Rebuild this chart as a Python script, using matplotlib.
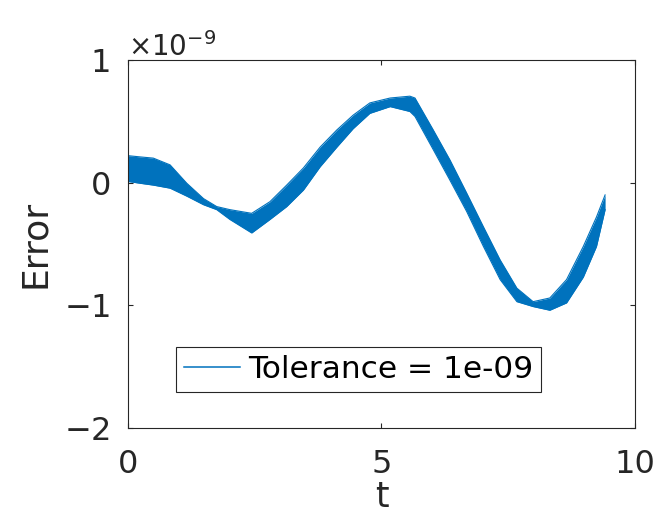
import matplotlib
matplotlib.use('Agg')
import matplotlib.pyplot as plt
import numpy as np

# band of the oscillating error curve (units of 1e-9)
t_pts = [0.0, 0.24, 0.50, 0.83, 1.16, 1.49, 1.75, 2.01, 2.44, 2.80, 3.13, 3.46,
         3.79, 4.12, 4.44, 4.77, 5.17, 5.56, 5.66, 6.02, 6.35, 6.68, 7.01, 7.34,
         7.67, 7.99, 8.32, 8.65, 8.98, 9.24, 9.41]
err_upper = [0.22, 0.21, 0.20, 0.145, -0.005, -0.13, -0.195, -0.22, -0.25, -0.155, -0.02, 0.12,
             0.29, 0.43, 0.55, 0.65, 0.69, 0.705, 0.69, 0.43, 0.185, -0.085, -0.36, -0.63,
             -0.86, -0.97, -0.94, -0.79, -0.52, -0.28, -0.10]
err_lower = [0.01, -0.005, -0.02, -0.045, -0.11, -0.18, -0.22, -0.30, -0.41, -0.30, -0.195, -0.06,
             0.13, 0.29, 0.44, 0.565, 0.62, 0.58, 0.54, 0.27, 0.02, -0.235, -0.52, -0.79,
             -0.97, -1.01, -1.04, -0.98, -0.77, -0.52, -0.22]
scale = 1e-9
legend_label = 'Tolerance = 1e-09'

xticks = [0, 5, 10]
yticks = [-2, -1, 0, 1]

axis_color = '#262626'
line_color = '#0072BD'

plt.rcParams['font.family'] = ['DejaVu Sans']

fig = plt.figure(figsize=(6.59, 5.29), dpi=100)
ax = fig.add_axes([0.1942, 0.1909, 0.7694, 0.6957])

t = np.array(t_pts)
up = np.array(err_upper) * scale
lo = np.array(err_lower) * scale

ax.fill_between(t, lo, up, color=line_color, linewidth=0)
ax.plot(t, up, color=line_color, linewidth=0.8, label=legend_label)
ax.plot(t, lo, color=line_color, linewidth=0.8)

ax.set_xlim(0, 10)
ax.set_ylim(-2 * scale, 1 * scale)
ax.set_xticks(xticks)
ax.set_yticks([v * scale for v in yticks])
ax.ticklabel_format(axis='y', style='sci', scilimits=(0, 0), useMathText=True)
ax.yaxis.get_offset_text().set_fontsize(20)
ax.yaxis.get_offset_text().set_color(axis_color)

ax.tick_params(direction='in', top=True, right=True, length=3.6, width=0.8,
               colors=axis_color, labelsize=23)
ax.tick_params(axis='x', pad=15)
ax.tick_params(axis='y', pad=13)
for sp in ax.spines.values():
    sp.set_color(axis_color)
    sp.set_linewidth(0.8)

ax.set_xlabel('t', fontsize=25, color=axis_color, labelpad=0)
ax.set_ylabel('Error', fontsize=26, color=axis_color, labelpad=8)

leg = ax.legend(loc='lower left', bbox_to_anchor=(0.095, 0.098), fontsize=22.5,
                fancybox=False, framealpha=1, edgecolor=axis_color,
                handlelength=1.8, handletextpad=0.25, borderpad=0.25,
                borderaxespad=0)
leg.get_frame().set_linewidth(0.8)
for h in leg.legend_handles:
    h.set_color(line_color)
    h.set_linewidth(1.1)
for txt in leg.get_texts():
    txt.set_color('black')

fig.savefig('out.png', dpi=100)
